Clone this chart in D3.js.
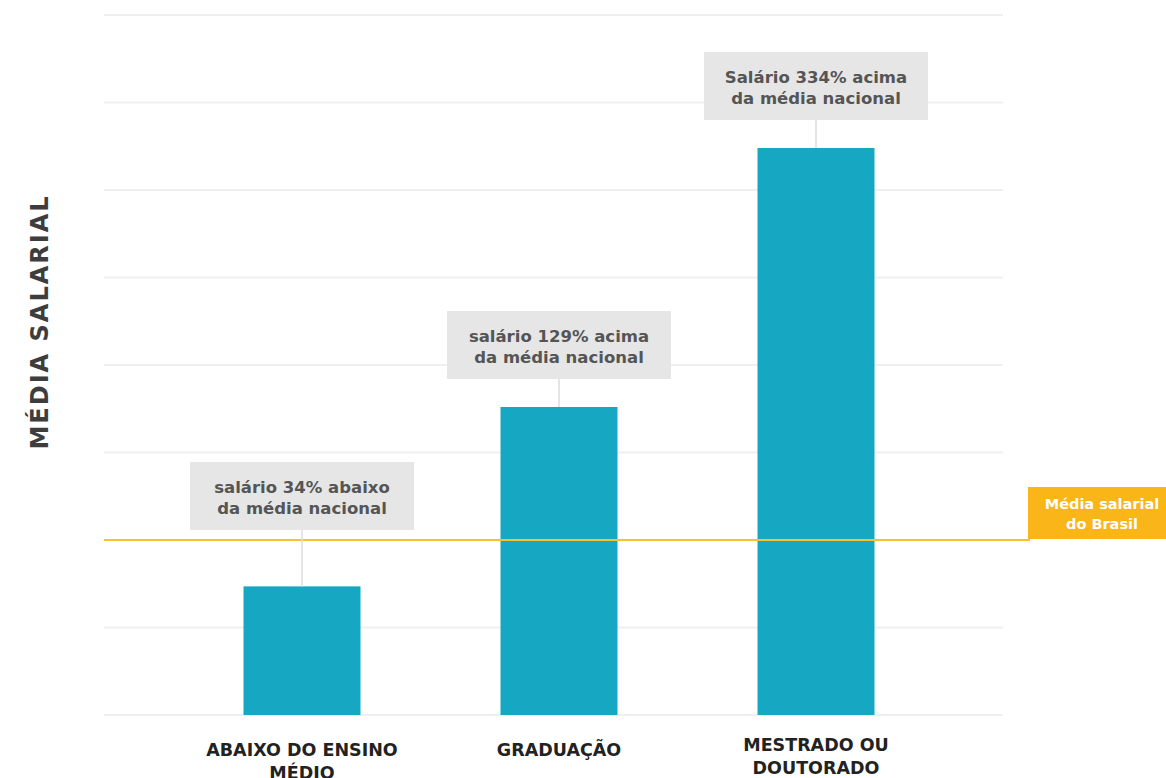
<!DOCTYPE html>
<html>
<head>
<meta charset="utf-8">
<script src="https://cdn.jsdelivr.net/npm/d3@7"></script>
<style>
  html, body { margin: 0; padding: 0; background: #fff; }
  svg { display: block; font-family: "DejaVu Sans", "Open Sans", sans-serif; }
</style>
</head>
<body>
<svg id="chart" width="1166" height="778"></svg>
<script>
const categories = [["ABAIXO DO ENSINO", "MÉDIO"], ["GRADUAÇÃO"], ["MESTRADO OU", "DOUTORADO"]];
const categoryKeys = ["abaixo", "graduacao", "mestrado"];
const values = [1.47, 3.52, 6.48];
const annotations = [
  ["salário 34% abaixo", "da média nacional"],
  ["salário 129% acima", "da média nacional"],
  ["Salário 334% acima", "da média nacional"]
];
const nationalAverage = 2;
const averageLabel = ["Média salarial", "do Brasil"];
const gridTicks = [0, 1, 2, 3, 4, 5, 6, 7, 8];
const yTitle = "MÉDIA SALARIAL";

const svg = d3.select("#chart");
const y = d3.scaleLinear().domain([0, 8]).range([715, 15]);
const x = d3.scalePoint().domain(categoryKeys).range([302, 816]);
const barW = 117;

// gridlines
svg.append("g").selectAll("line").data(gridTicks.filter(t => t !== nationalAverage)).join("line")
  .attr("x1", 104).attr("x2", 1003)
  .attr("y1", d => y(d)).attr("y2", d => y(d))
  .attr("stroke", "#efefef").attr("stroke-width", 2);

// y title
svg.append("text")
  .attr("transform", `translate(48,322) rotate(-90)`)
  .attr("text-anchor", "middle")
  .attr("font-size", 24).attr("font-weight", 700)
  .attr("letter-spacing", 2)
  .attr("fill", "#3d3d3d")
  .text(yTitle);

// bars
svg.append("g").selectAll("rect").data(values).join("rect")
  .attr("x", (d, i) => x(categoryKeys[i]) - barW / 2)
  .attr("width", barW)
  .attr("y", d => y(d))
  .attr("height", d => y(0) - y(d))
  .attr("fill", "#16a8c3");

// average line
const avgY = y(nationalAverage);
svg.append("line")
  .attr("x1", 104).attr("x2", 1030)
  .attr("y1", avgY).attr("y2", avgY)
  .attr("stroke", "#f6c231").attr("stroke-width", 2);

// average label box
svg.append("rect")
  .attr("x", 1028).attr("y", avgY - 53).attr("width", 144).attr("height", 52)
  .attr("fill", "#fab519");
svg.append("g").selectAll("text").data(averageLabel).join("text")
  .attr("x", 1102).attr("y", (d, i) => avgY - 31 + i * 20)
  .attr("text-anchor", "middle")
  .attr("font-size", 14.5).attr("font-weight", 700)
  .attr("fill", "#fff")
  .text(d => d);

// annotation boxes
const boxW = 224, boxH = 68;
values.forEach((v, i) => {
  const cx = x(categoryKeys[i]);
  const top = y(v);
  const bottom = top > avgY ? avgY - 10 : top - 28;
  svg.append("line")
    .attr("x1", cx).attr("x2", cx)
    .attr("y1", bottom).attr("y2", top)
    .attr("stroke", "#dcdcdc").attr("stroke-width", 1.5);
  svg.append("rect")
    .attr("x", cx - boxW / 2).attr("y", bottom - boxH)
    .attr("width", boxW).attr("height", boxH)
    .attr("fill", "#e6e6e6");
  svg.append("g").selectAll("text").data(annotations[i]).join("text")
    .attr("x", cx).attr("y", (d, j) => bottom - boxH + 31 + j * 21)
    .attr("text-anchor", "middle")
    .attr("font-size", 16.5).attr("font-weight", 700)
    .attr("fill", "#555")
    .text(d => d);
});

// category labels
categories.forEach((lines, i) => {
  const cx = x(categoryKeys[i]);
  svg.append("g").selectAll("text").data(lines).join("text")
    .attr("x", cx).attr("y", (d, j) => (i === 2 ? 751 : 756) + j * 23)
    .attr("text-anchor", "middle")
    .attr("font-size", 17.5).attr("font-weight", 700)
    .attr("fill", "#222")
    .text(d => d);
});
</script>
</body>
</html>
